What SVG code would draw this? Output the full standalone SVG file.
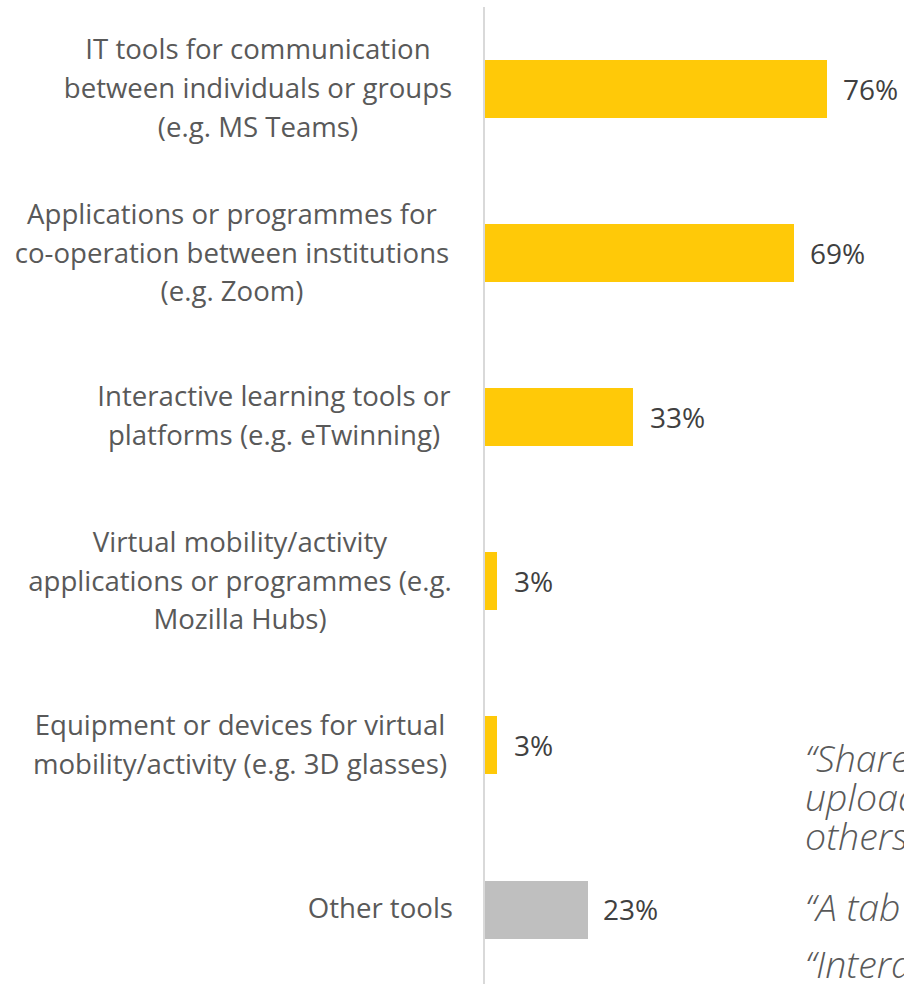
<svg xmlns="http://www.w3.org/2000/svg" width="904" height="986" viewBox="0 0 904 986">
<style>
.lbl{font-family:"Open Sans","Liberation Sans",sans-serif;font-size:27.6px;fill:#595959;text-anchor:middle}
.val{font-family:"Open Sans","Liberation Sans",sans-serif;font-size:28px;fill:#404040}
.bar{fill:#ffc908}
.oth{fill:#bfbfbf}
.q{font-family:"Open Sans","Liberation Sans",sans-serif;font-size:37.5px;font-style:italic;font-weight:300;fill:#595959}
</style>
<rect width="904" height="986" fill="#ffffff"/>
<g id="axis"><line x1="484" y1="7" x2="484" y2="984" stroke="#d9d9d9" stroke-width="2"/></g>
<g id="row1">
<text class="lbl" x="258" y="59">IT tools for communication</text>
<text class="lbl" x="258" y="98">between individuals or groups</text>
<text class="lbl" x="258" y="137">(e.g. MS Teams)</text>
<rect class="bar" x="485" y="60" width="342" height="58"/>
<text class="val" x="843" y="100">76%</text>
</g>
<g id="row2">
<text class="lbl" x="232" y="224">Applications or programmes for</text>
<text class="lbl" x="232" y="263">co-operation between institutions</text>
<text class="lbl" x="232" y="301">(e.g. Zoom)</text>
<rect class="bar" x="485" y="224" width="309" height="58"/>
<text class="val" x="810" y="264">69%</text>
</g>
<g id="row3">
<text class="lbl" x="274" y="406">Interactive learning tools or</text>
<text class="lbl" x="274" y="445">platforms (e.g. eTwinning)</text>
<rect class="bar" x="485" y="388" width="148" height="58"/>
<text class="val" x="650" y="428">33%</text>
</g>
<g id="row4">
<text class="lbl" x="240" y="552">Virtual mobility/activity</text>
<text class="lbl" x="240" y="591">applications or programmes (e.g.</text>
<text class="lbl" x="240" y="629">Mozilla Hubs)</text>
<rect class="bar" x="485" y="552" width="12" height="58"/>
<text class="val" x="514" y="592">3%</text>
</g>
<g id="row5">
<text class="lbl" x="240" y="735">Equipment or devices for virtual</text>
<text class="lbl" x="240" y="774">mobility/activity (e.g. 3D glasses)</text>
<rect class="bar" x="485" y="716" width="12" height="58"/>
<text class="val" x="514" y="756">3%</text>
</g>
<g id="row6">
<text class="lbl" x="453" y="918" style="text-anchor:end">Other tools</text>
<rect class="oth" x="485" y="881" width="103" height="58"/>
<text class="val" x="603" y="920">23%</text>
</g>
<g id="quotes">
<text class="q" x="805" y="772">“Shared</text>
<text class="q" x="805" y="811">upload</text>
<text class="q" x="805" y="850">others</text>
<text class="q" x="805" y="921">“A tab</text>
<text class="q" x="805" y="978">“Intera</text>
</g>
</svg>
